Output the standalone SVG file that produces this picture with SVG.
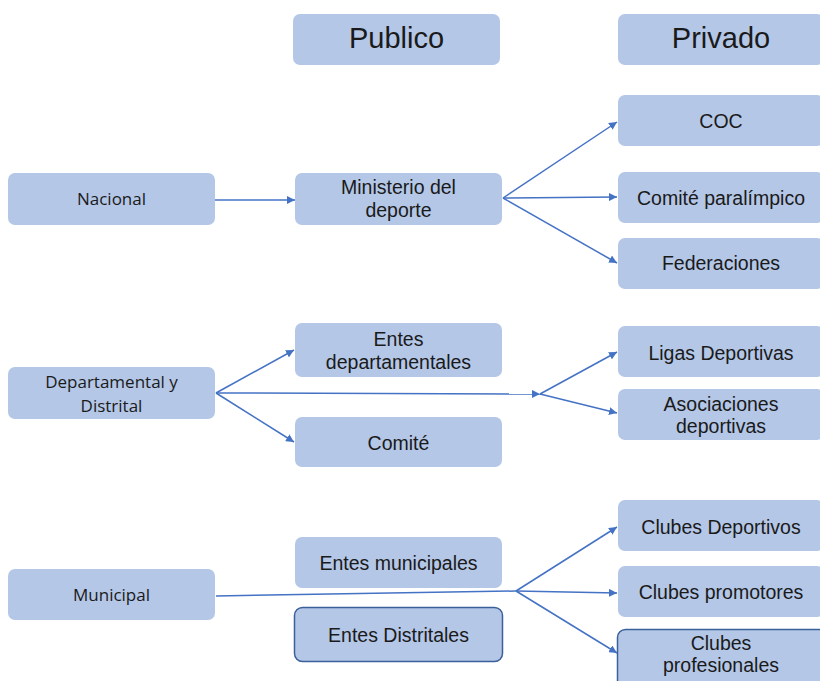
<svg xmlns="http://www.w3.org/2000/svg" width="820" height="681" viewBox="0 0 820 681">
<defs>
<style>
.box{fill:#B4C7E7;}
.bord{fill:#B4C7E7;stroke:#3B5F9A;stroke-width:1.5;}
.t{font-family:"Liberation Sans",Arial,sans-serif;font-size:19.5px;fill:#1a1a1a;text-anchor:middle;}
.h{font-family:"Liberation Sans",Arial,sans-serif;font-size:29px;fill:#1a1a1a;text-anchor:middle;}
.s{font-family:"Open Sans","Noto Sans",sans-serif;font-size:17px;fill:#1a1a1a;text-anchor:middle;}
.c{fill:none;stroke:#4472C4;stroke-width:1.5;}
</style>
<marker id="ah" viewBox="0 0 10 10" refX="10" refY="5" markerWidth="8" markerHeight="8" markerUnits="userSpaceOnUse" orient="auto">
<path d="M0,0 L10,5 L0,10 z" fill="#4472C4"/>
</marker>
</defs>
<rect width="820" height="681" fill="#ffffff"/>
<g id="connectors">
<line class="c" x1="215" y1="200" x2="295" y2="200" marker-end="url(#ah)"/>
<line class="c" x1="503" y1="198" x2="617" y2="122" marker-end="url(#ah)"/>
<line class="c" x1="503" y1="198" x2="617" y2="197" marker-end="url(#ah)"/>
<line class="c" x1="503" y1="198" x2="617" y2="263" marker-end="url(#ah)"/>
<line class="c" x1="216" y1="393" x2="294" y2="350" marker-end="url(#ah)"/>
<line class="c" x1="216" y1="393" x2="294" y2="442" marker-end="url(#ah)"/>
<line class="c" x1="216" y1="393" x2="540" y2="394" marker-end="url(#ah)"/>
<line class="c" x1="540" y1="394" x2="617" y2="352" marker-end="url(#ah)"/>
<line class="c" x1="540" y1="394" x2="617" y2="413" marker-end="url(#ah)"/>
<line class="c" x1="216" y1="596" x2="516" y2="591"/>
<line class="c" x1="516" y1="591" x2="617" y2="527" marker-end="url(#ah)"/>
<line class="c" x1="516" y1="591" x2="617" y2="593" marker-end="url(#ah)"/>
<line class="c" x1="516" y1="591" x2="617" y2="653" marker-end="url(#ah)"/>
</g>
<g id="publico"><rect class="box" x="293" y="14" width="207" height="51" rx="7"/><text class="h" x="396.5" y="48">Publico</text></g>
<g id="privado"><rect class="box" x="618" y="14" width="206" height="51" rx="7"/><text class="h" x="721" y="48">Privado</text></g>
<g id="nacional"><rect class="box" x="8" y="173" width="207" height="52" rx="7"/><text class="s" x="111.5" y="205">Nacional</text></g>
<g id="ministerio"><rect class="box" x="295" y="173" width="207" height="52" rx="7"/><text class="t" x="398.5" y="194">Ministerio del</text><text class="t" x="398.5" y="217">deporte</text></g>
<g id="coc"><rect class="box" x="618" y="95" width="206" height="51" rx="7"/><text class="t" x="721" y="128">COC</text></g>
<g id="paralimpico"><rect class="box" x="618" y="172" width="206" height="51" rx="7"/><text class="t" x="721" y="205">Comité paralímpico</text></g>
<g id="federaciones"><rect class="box" x="618" y="238" width="206" height="51" rx="7"/><text class="t" x="721" y="270">Federaciones</text></g>
<g id="departamental"><rect class="box" x="8" y="367" width="207" height="52" rx="7"/><text class="s" x="111.5" y="388">Departamental y</text><text class="s" x="111.5" y="412">Distrital</text></g>
<g id="entes-dep"><rect class="box" x="295" y="323" width="207" height="54" rx="7"/><text class="t" x="398.5" y="346">Entes</text><text class="t" x="398.5" y="369">departamentales</text></g>
<g id="comite"><rect class="box" x="295" y="417" width="207" height="50" rx="7"/><text class="t" x="398.5" y="450">Comité</text></g>
<g id="ligas"><rect class="box" x="618" y="326" width="206" height="51" rx="7"/><text class="t" x="721" y="360">Ligas Deportivas</text></g>
<g id="asociaciones"><rect class="box" x="618" y="389" width="206" height="51" rx="7"/><text class="t" x="721" y="411">Asociaciones</text><text class="t" x="721" y="433">deportivas</text></g>
<g id="municipal"><rect class="box" x="8" y="569" width="207" height="51" rx="7"/><text class="s" x="111.5" y="601">Municipal</text></g>
<g id="entes-mun"><rect class="box" x="295" y="537" width="207" height="51" rx="7"/><text class="t" x="398.5" y="570">Entes municipales</text></g>
<g id="entes-dis"><rect class="bord" x="294.5" y="607.5" width="208" height="54" rx="8"/><text class="t" x="398.5" y="642">Entes Distritales</text></g>
<g id="clubes-dep"><rect class="box" x="618" y="500" width="206" height="51" rx="7"/><text class="t" x="721" y="534">Clubes Deportivos</text></g>
<g id="clubes-prom"><rect class="box" x="618" y="566" width="206" height="51" rx="7"/><text class="t" x="721" y="599">Clubes promotores</text></g>
<g id="clubes-prof"><rect class="bord" x="617.5" y="629.5" width="210" height="60" rx="8"/><text class="t" x="721" y="650">Clubes</text><text class="t" x="721" y="672">profesionales</text></g>
</svg>
